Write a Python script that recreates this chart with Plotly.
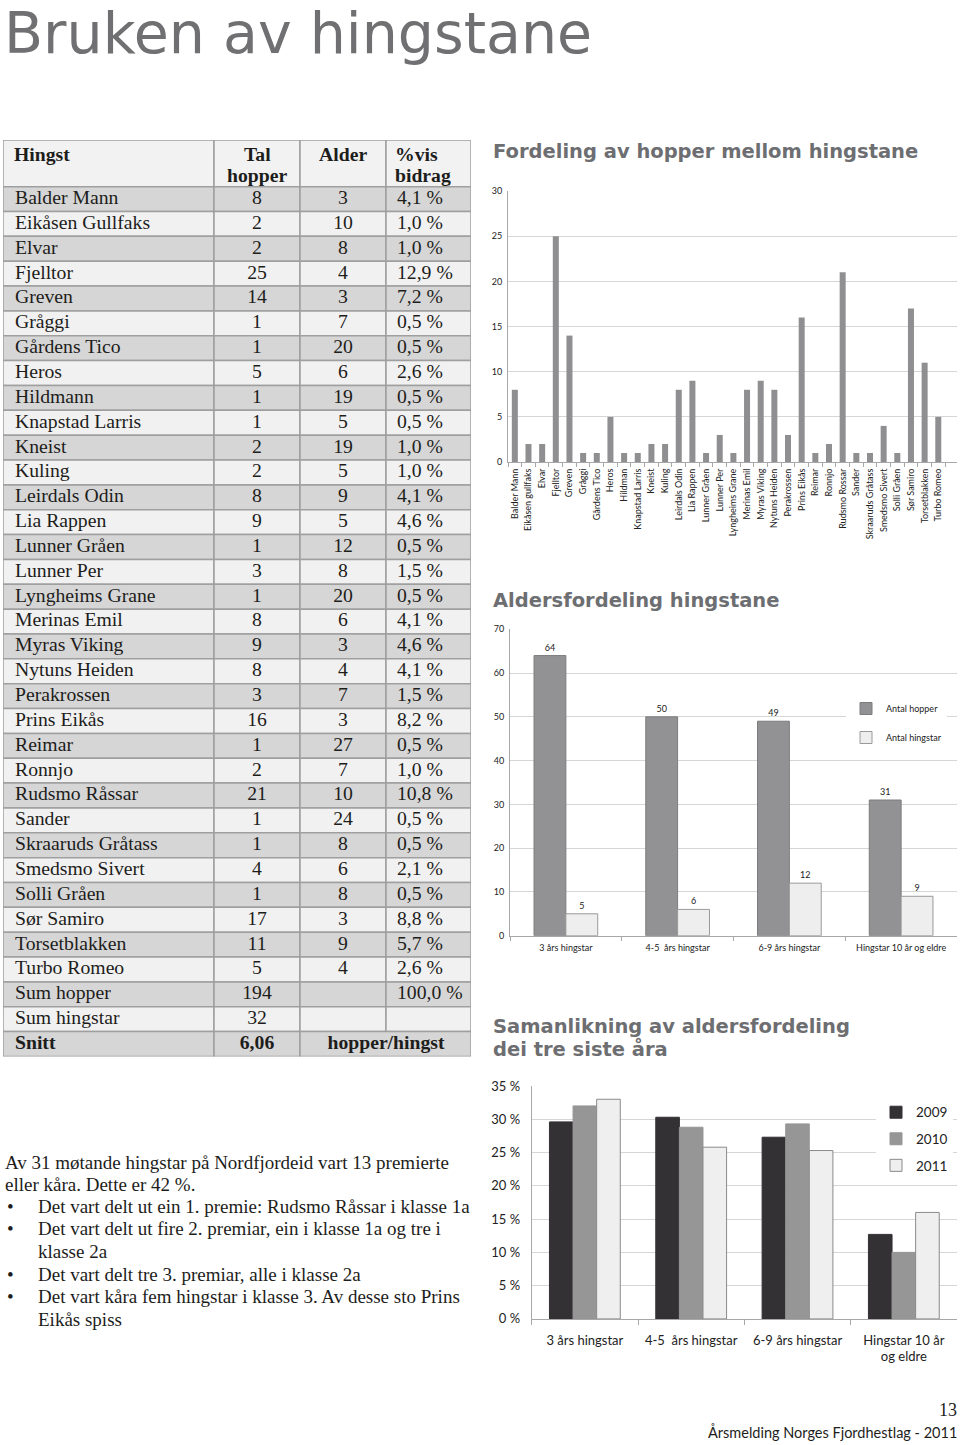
import plotly.graph_objects as go

W, H = 960, 1445

# ---------------- data: table ----------------
hingst = ["Balder Mann", "Eikåsen Gullfaks", "Elvar", "Fjelltor", "Greven", "Gråggi",
          "Gårdens Tico", "Heros", "Hildmann", "Knapstad Larris", "Kneist", "Kuling",
          "Leirdals Odin", "Lia Rappen", "Lunner Gråen", "Lunner Per", "Lyngheims Grane",
          "Merinas Emil", "Myras Viking", "Nytuns Heiden", "Perakrossen", "Prins Eikås",
          "Reimar", "Ronnjo", "Rudsmo Råssar", "Sander", "Skraaruds Gråtass",
          "Smedsmo Sivert", "Solli Gråen", "Sør Samiro", "Torsetblakken", "Turbo Romeo"]
tal_hopper = [8, 2, 2, 25, 14, 1, 1, 5, 1, 1, 2, 2, 8, 9, 1, 3, 1, 8, 9, 8, 3, 16,
              1, 2, 21, 1, 1, 4, 1, 17, 11, 5]
alder = [3, 10, 8, 4, 3, 7, 20, 6, 19, 5, 19, 5, 9, 5, 12, 8, 20, 6, 3, 4, 7, 3,
         27, 7, 10, 24, 8, 6, 8, 3, 9, 4]
prosent = ["4,1 %", "1,0 %", "1,0 %", "12,9 %", "7,2 %", "0,5 %", "0,5 %", "2,6 %",
           "0,5 %", "0,5 %", "1,0 %", "1,0 %", "4,1 %", "4,6 %", "0,5 %", "1,5 %",
           "0,5 %", "4,1 %", "4,6 %", "4,1 %", "1,5 %", "8,2 %", "0,5 %", "1,0 %",
           "10,8 %", "0,5 %", "0,5 %", "2,1 %", "0,5 %", "8,8 %", "5,7 %", "2,6 %"]
sum_hopper = 194
sum_pst = "100,0 %"
sum_hingstar = 32
snitt = "6,06"

# ---------------- data: charts ----------------
bar_labels = ["Balder Mann", "Eikåsen gullfaks", "Elvar", "Fjelltor", "Greven", "Gråggi",
              "Gårdens Tico", "Heros", "Hildman", "Knapstad Larris", "Kneist", "Kuling",
              "Leirdals Odin", "Lia Rappen", "Lunner Gråen", "Lunner Per", "Lyngheims Grane",
              "Merinas Emil", "Myras Viking", "Nytuns Heiden", "Perakrossen", "Prins Eikås",
              "Reimar", "Ronnjo", "Rudsmo Rossar", "Sander", "Skraaruds Gråtass",
              "Smedsmo Sivert", "Solli Gråen", "Sør Samiro", "Torsetblakken", "Turbo Romeo"]

alder_kat = ["3 års hingstar", "4-5  års hingstar", "6-9 års hingstar", "Hingstar 10 år og eldre"]
antal_hopper = [64, 50, 49, 31]
antal_hingstar = [5, 6, 12, 9]

samanlikn_kat = ["3 års hingstar", "4-5  års hingstar", "6-9 års hingstar", "Hingstar 10 år<br>og eldre"]
pst_2009 = [29.6, 30.3, 27.3, 12.7]
pst_2010 = [32.0, 28.8, 29.3, 10.0]
pst_2011 = [33.0, 25.8, 25.3, 16.0]

# the capture squeezes the page a little vertically, so page rows are mapped back
VS = 1445 / 1461.0


def px(x):
    return x / W


def py(y):
    return 1 - (y / VS - 8) / H


CHART_FONT = "Lato"
SERIF = "Liberation Serif"
TITLE_GREY = "#6d6e71"
TXT = "#1d1d1b"

fig = go.Figure()

# ---- chart 1: fordeling av hopper ----
fig.add_trace(go.Bar(x=bar_labels, y=tal_hopper, xaxis="x", yaxis="y",
                     marker=dict(color="#8f8f92", line=dict(width=0)),
                     width=0.44, showlegend=False, hoverinfo="x+y"))

# ---- chart 2: aldersfordeling ----
fig.add_trace(go.Bar(x=alder_kat, y=antal_hopper, xaxis="x2", yaxis="y2",
                     name="Antal hopper", legend="legend", legendgroup="a",
                     marker=dict(color="#929295", line=dict(color="#7c7c7e", width=1)),
                     width=0.285, offset=-0.285,
                     text=antal_hopper, textposition="outside", cliponaxis=False,
                     textfont=dict(family=CHART_FONT, size=9, color="#222")))
fig.add_trace(go.Bar(x=alder_kat, y=antal_hingstar, xaxis="x2", yaxis="y2",
                     name="Antal hingstar", legend="legend", legendgroup="b",
                     marker=dict(color="#eeeeee", line=dict(color="#9a9a9a", width=1)),
                     width=0.285, offset=0.0,
                     text=antal_hingstar, textposition="outside", cliponaxis=False,
                     textfont=dict(family=CHART_FONT, size=9, color="#222")))

# ---- chart 3: samanlikning ----
for vals, name, col, lcol, off in [(pst_2009, "2009", "#333133", "#333133", -0.333),
                                   (pst_2010, "2010", "#969696", "#969696", -0.111),
                                   (pst_2011, "2011", "#efefef", "#8a8a8a", 0.111)]:
    fig.add_trace(go.Bar(x=samanlikn_kat, y=vals, xaxis="x3", yaxis="y3",
                         name=name, legend="legend2", legendgroup=name,
                         marker=dict(color=col, line=dict(color=lcol, width=1)),
                         width=0.222, offset=off))

# ---- table (row units on y, pixel columns on x) ----
cols = [3, 214, 300, 386, 471]
HEAD = -1.875
n = len(hingst)
nrows = n + 3
shapes = []
line = dict(color="#9f9f9f", width=1.5)
for c in range(4):
    shapes.append(dict(type="rect", xref="x4", yref="y4", x0=cols[c], x1=cols[c + 1],
                       y0=HEAD, y1=0, fillcolor="#f2f2f2", line=line, layer="below"))
for i in range(nrows):
    fill = "#d6d6d6" if i % 2 == 0 else "#f1f1f1"
    bounds = cols if i < nrows - 1 else [3, 214, 300, 471]
    for c in range(len(bounds) - 1):
        shapes.append(dict(type="rect", xref="x4", yref="y4", x0=bounds[c], x1=bounds[c + 1],
                           y0=i, y1=i + 1, fillcolor=fill, line=line, layer="below"))

rows_y = [i + 0.5 for i in range(nrows)]
names = hingst + ["Sum hopper", "Sum hingstar", "<b>Snitt</b>"]
tal_col = [str(v) for v in tal_hopper] + [str(sum_hopper), str(sum_hingstar), "<b>" + snitt + "</b>"]
alder_col = [str(v) for v in alder] + ["", "", ""]
pst_col = prosent + [sum_pst, "", ""]
tfont = dict(family=SERIF, size=19.7, color=TXT)

fig.add_trace(go.Scatter(x=[15] * nrows, y=rows_y, text=names, mode="text",
                         textposition="middle right", textfont=tfont,
                         xaxis="x4", yaxis="y4", showlegend=False, hoverinfo="skip"))
fig.add_trace(go.Scatter(x=[257] * nrows, y=rows_y, text=tal_col, mode="text",
                         textposition="middle center", textfont=tfont,
                         xaxis="x4", yaxis="y4", showlegend=False, hoverinfo="skip"))
fig.add_trace(go.Scatter(x=[343] * nrows, y=rows_y, text=alder_col, mode="text",
                         textposition="middle center", textfont=tfont,
                         xaxis="x4", yaxis="y4", showlegend=False, hoverinfo="skip"))
fig.add_trace(go.Scatter(x=[397] * nrows, y=rows_y, text=pst_col, mode="text",
                         textposition="middle right", textfont=tfont,
                         xaxis="x4", yaxis="y4", showlegend=False, hoverinfo="skip"))
fig.add_trace(go.Scatter(x=[386], y=[nrows - 0.5], text=["<b>hopper/hingst</b>"], mode="text",
                         textposition="middle center", textfont=tfont,
                         xaxis="x4", yaxis="y4", showlegend=False, hoverinfo="skip"))

annotations = []
# table header
for x, y, t, anc in [(12, -1.31, "Hingst", "left"), (257, -1.31, "Tal", "center"),
                     (257, -0.47, "hopper", "center"), (343, -1.31, "Alder", "center"),
                     (393, -1.31, "%vis", "left"), (393, -0.47, "bidrag", "left")]:
    annotations.append(dict(x=x, y=y, xref="x4", yref="y4", text="<b>" + t + "</b>",
                            showarrow=False, xanchor=anc, yanchor="middle", font=tfont))

# page title
annotations.append(dict(x=px(2), y=py(33), xref="paper", yref="paper", text="Bruken av hingstane",
                        showarrow=False, xanchor="left", yanchor="middle",
                        font=dict(family="DejaVu Sans", size=57, color="#707072")))

# chart titles
tfont_c = dict(family="DejaVu Sans", size=19.5, color=TITLE_GREY)
for y, t in [(151, "Fordeling av hopper mellom hingstane"), (600, "Aldersfordeling hingstane"),
             (1027, "Samanlikning av aldersfordeling"), (1049, "dei tre siste åra")]:
    annotations.append(dict(x=px(491), y=py(y), xref="paper", yref="paper", text="<b>" + t + "</b>",
                            showarrow=False, xanchor="left", yanchor="middle", font=tfont_c))

# body text
bfont = dict(family=SERIF, size=19, color=TXT)
body = [(1163, None, "Av 31 møtande hingstar på Nordfjordeid vart 13 premierte"),
        (1185, None, "eller kåra. Dette er 42 %."),
        (1207, "•", "Det vart delt ut ein 1. premie: Rudsmo Råssar i klasse 1a"),
        (1229, "•", "Det vart delt ut fire 2. premiar, ein i klasse 1a og tre i"),
        (1252, "", "klasse 2a"),
        (1275, "•", "Det vart delt tre 3. premiar, alle i klasse 2a"),
        (1297, "•", "Det vart kåra fem hingstar i klasse 3. Av desse sto Prins"),
        (1320, "", "Eikås spiss")]
for y, bullet, t in body:
    x0 = 3 if bullet is None else 36
    if bullet:
        annotations.append(dict(x=px(5), y=py(y), xref="paper", yref="paper", text=bullet,
                                showarrow=False, xanchor="left", yanchor="middle", font=bfont))
    annotations.append(dict(x=px(x0), y=py(y), xref="paper", yref="paper", text=t,
                            showarrow=False, xanchor="left", yanchor="middle", font=bfont))

# footer
annotations.append(dict(x=px(959), y=py(1410), xref="paper", yref="paper", text="13",
                        showarrow=False, xanchor="right", yanchor="middle",
                        font=dict(family=SERIF, size=18, color=TXT)))
annotations.append(dict(x=px(959), y=py(1432), xref="paper", yref="paper",
                        text="Årsmelding Norges Fjordhestlag - 2011",
                        showarrow=False, xanchor="right", yanchor="middle",
                        font=dict(family=CHART_FONT, size=14.5, color=TXT)))

grid = "#d6d6d6"
axline = "#a8a8a8"
small = dict(family=CHART_FONT, size=9, color="#222")

fig.update_layout(
    width=W, height=H,
    margin=dict(l=0, r=0, t=0, b=0),
    paper_bgcolor="white", plot_bgcolor="white",
    barmode="overlay",
    font=dict(family=CHART_FONT, color="#222"),
    shapes=shapes,
    annotations=annotations,
    xaxis=dict(domain=[px(508), px(957)], anchor="y", type="category", range=[-0.5, 32.37],
               tickangle=-90, tickfont=small, ticks="outside", tickson="boundaries",
               ticklen=4, tickcolor=axline, showline=True, linecolor=axline, showgrid=False,
               ticklabelstandoff=2),
    yaxis=dict(domain=[py(462), py(191)], anchor="x", range=[0, 30], dtick=5,
               tickfont=small, gridcolor=grid, showline=True, linecolor=axline, zeroline=False,
               ticklabelstandoff=3),
    xaxis2=dict(domain=[px(510), px(957)], anchor="y2", type="category",
                tickfont=dict(family=CHART_FONT, size=9, color="#222"), ticks="outside",
                tickson="boundaries", ticklen=4, tickcolor=axline, showline=True,
                linecolor=axline, showgrid=False, ticklabelstandoff=4),
    yaxis2=dict(domain=[py(935.7), py(629.3)], anchor="x2", range=[0, 70], dtick=10,
                tickfont=dict(family=CHART_FONT, size=9, color="#222"), gridcolor=grid,
                showline=True, linecolor=axline, zeroline=False, ticklabelstandoff=3),
    xaxis3=dict(domain=[px(531.7), px(957)], anchor="y3", type="category",
                tickfont=dict(family=CHART_FONT, size=13, color="#222"), ticks="outside",
                tickson="boundaries", ticklen=5, tickcolor=axline, showline=True,
                linecolor=axline, showgrid=False, ticklabelstandoff=9),
    yaxis3=dict(domain=[py(1319), py(1086)], anchor="x3", range=[0, 35], dtick=5,
                ticksuffix=" %", tickfont=dict(family=CHART_FONT, size=13, color="#222"),
                gridcolor=grid, showline=True, linecolor=axline, zeroline=False,
                ticklabelstandoff=8),
    xaxis4=dict(domain=[px(3), px(471)], anchor="y4", range=[3, 471], visible=False),
    yaxis4=dict(domain=[py(1056.5), py(140)], anchor="x4", range=[nrows, HEAD], visible=False),
    legend=dict(x=px(846), y=py(694), xanchor="left", yanchor="top", bgcolor="white",
                font=dict(family=CHART_FONT, size=9, color="#222"), tracegroupgap=10,
                itemwidth=30),
    legend2=dict(x=px(876), y=py(1097), xanchor="left", yanchor="top", bgcolor="white",
                 font=dict(family=CHART_FONT, size=13.5, color="#222"), tracegroupgap=6,
                 itemwidth=30),
)

fig.write_html("out.html", config={"displayModeBar": False},
               post_script="document.body.style.margin='0';")
